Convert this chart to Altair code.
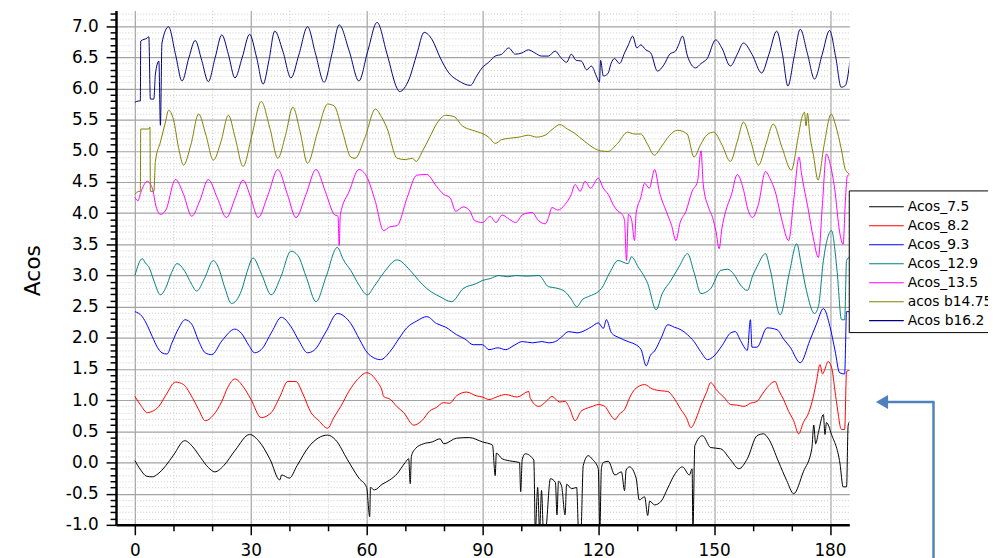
import altair as alt
import pandas as pd

names = ["Acos_7.5", "Acos_8.2", "Acos_9.3", "Acos_12.9", "Acos_13.5", "acos b14.75", "Acos b16.2"]
colors = ["#000000", "#ff0000", "#0000ff", "#008080", "#ff00ff", "#808000", "#000080"]

acos_7_5 = [(0, 0.03), (1.5, -0.12), (3, -0.22), (4.5, -0.23), (6, -0.18), (8, -0.05), (10, 0.12), (12.9, 0.35), (15, 0.25), (17, 0.08), (19, -0.08), (20.7, -0.15), (23, -0.05), (26, 0.20), (29.7, 0.45), (32, 0.35), (35, 0.05), (37.5, -0.28), (38, -0.20), (40, -0.25), (42, -0.05), (45, 0.25), (49.9, 0.44), (52, 0.36), (55, 0.05), (58, -0.25), (60, -0.40), (60.8, -0.87), (61, -0.40), (62, -0.44), (64, -0.35), (66, -0.28), (67.9, -0.18), (70, 0.0), (70.9, 0.06), (71.3, -0.34), (71.6, 0.10), (72.6, 0.22), (74.7, 0.30), (77, 0.33), (79, 0.38), (80, 0.30), (83.3, 0.39), (86.6, 0.40), (90, 0.33), (92.6, 0.28), (93.3, -0.21), (93.6, 0.15), (95.1, 0.06), (97.7, 0.02), (99.6, 0.0), (99.9, -0.47), (100.3, 0.05), (101.1, 0.14), (103.3, 0.04), (103.7, -1.1), (104.3, -0.40), (104.8, -1.1), (105.3, -0.45), (105.8, -1.1), (106.3, -1.1), (107.6, -0.26), (108.9, -0.32), (109.3, -0.84), (109.7, -0.30), (110.5, -0.38), (111.4, -0.84), (111.8, -0.35), (113.1, -0.42), (114.4, -0.40), (114.9, -1.1), (115.5, -1.1), (116.1, -0.05), (117.4, 0.11), (118.5, 0.05), (120, -0.1), (120.4, -1.1), (120.8, -0.1), (121.3, 0.0), (122.6, 0.02), (124.3, -0.20), (126, -0.15), (126.8, -0.45), (127.2, -0.12), (128.1, -0.07), (129.8, -0.25), (130.6, -0.60), (132, -0.55), (132.8, -0.85), (133.3, -0.62), (134.6, -0.68), (136.3, -0.62), (138, -0.41), (139.7, -0.20), (141.8, -0.07), (143.6, -0.20), (144.3, -0.1), (144.5, -1.1), (145, 0.27), (147, 0.43), (149.1, 0.24), (151.7, 0.22), (154.3, 0.04), (156.4, -0.10), (158.6, 0.06), (161.1, 0.43), (162.8, 0.46), (164.1, 0.38), (166.7, 0.01), (168.8, -0.29), (170.6, -0.50), (173.1, -0.15), (175.3, 0.22), (175.8, 0.60), (176.3, 0.30), (177, 0.48), (178.3, 0.77), (178.7, 0.45), (179.1, 0.64), (180.4, 0.45), (182.6, -0.02), (183.4, -0.39), (184.3, -0.39), (184.7, 0.59), (185.2, 0.67)]

acos_8_2 = [(0, 1.06), (1.5, 0.92), (3.2, 0.80), (4.5, 0.82), (6.2, 0.90), (8, 1.08), (10.5, 1.29), (12.6, 1.25), (14.5, 1.08), (16.5, 0.85), (18.2, 0.67), (20.3, 0.76), (22.5, 0.98), (24, 1.20), (25.9, 1.34), (28, 1.22), (30, 1.02), (32.7, 0.72), (35.3, 0.80), (37.5, 1.05), (39.6, 1.30), (41.7, 1.30), (43.5, 1.10), (45.6, 0.80), (47.5, 0.68), (49.9, 0.55), (51.5, 0.72), (53.3, 0.90), (55.5, 1.15), (57.6, 1.33), (60, 1.44), (62.7, 1.30), (64, 1.15), (64.4, 1.06), (66.2, 1.01), (67.8, 0.90), (69.6, 0.80), (72.2, 0.60), (74.3, 0.67), (76.4, 0.83), (78, 0.88), (79.9, 0.96), (81.5, 0.95), (83.3, 1.07), (85.9, 1.13), (88.4, 1.07), (90, 1.05), (91.7, 1.01), (94, 1.06), (96, 1.09), (99, 1.05), (102, 1.14), (102.4, 1.03), (104.6, 0.90), (106.5, 0.98), (108, 1.06), (110, 0.97), (111.4, 0.98), (112.5, 0.88), (114, 0.67), (115.5, 0.82), (116.6, 0.86), (118.5, 0.90), (120, 0.93), (121.7, 0.90), (123, 0.78), (124.3, 0.69), (125.5, 0.78), (126.8, 0.85), (128.2, 1.05), (129.4, 1.17), (132, 1.25), (134, 1.18), (136.3, 1.15), (138, 1.14), (139.3, 1.06), (141.4, 0.85), (142.8, 0.72), (144, 0.56), (145.3, 0.70), (146.6, 0.92), (148, 1.12), (149.1, 1.28), (150.8, 1.15), (152.5, 1.05), (154.3, 0.93), (156, 0.92), (157.7, 0.90), (159.4, 0.95), (161.1, 0.98), (162.5, 1.10), (163.7, 1.20), (165.8, 1.30), (166.8, 1.15), (168, 1.01), (169.3, 0.82), (170.6, 0.67), (171.9, 0.46), (173.1, 0.64), (174.5, 0.80), (175.7, 1.06), (176.5, 1.30), (177.4, 1.57), (178.1, 1.42), (178.7, 1.50), (179.5, 1.62), (180.4, 1.53), (181.6, 1.01), (183, 0.53), (183.8, 0.53), (184.3, 1.46), (185.2, 1.48)]

acos_9_3 = [(0, 2.42), (1.9, 2.34), (3.2, 2.20), (4.5, 2.02), (5.8, 1.85), (7, 1.76), (8.3, 1.74), (9.6, 1.92), (11.3, 2.15), (13, 2.29), (14.7, 2.22), (16.5, 1.95), (18.2, 1.76), (19.9, 1.73), (22.5, 1.95), (25.9, 2.14), (27.6, 2.07), (29.5, 1.88), (31, 1.76), (32.7, 1.81), (35.5, 2.10), (37.9, 2.33), (40.4, 2.18), (42.5, 1.95), (44.7, 1.76), (46.4, 1.80), (49.5, 2.10), (52.4, 2.39), (55.9, 2.23), (58.2, 1.97), (60.2, 1.76), (63.6, 1.65), (66.2, 1.79), (68.5, 2.00), (70.4, 2.16), (73, 2.27), (75.6, 2.34), (78.1, 2.23), (80.5, 2.17), (83.3, 2.05), (85.5, 1.98), (87.6, 1.89), (90, 1.89), (91.7, 1.81), (94, 1.84), (96, 1.81), (98.2, 1.88), (100.3, 1.94), (103, 1.92), (105.4, 1.94), (107.2, 1.92), (108.9, 1.94), (110.6, 2.02), (112.3, 2.10), (114.5, 2.08), (116.6, 2.12), (118.3, 2.18), (120, 2.24), (121.3, 2.15), (122.1, 2.29), (123.4, 2.08), (125.5, 2.00), (127.7, 1.94), (129.4, 1.90), (131.1, 1.81), (132.4, 1.55), (133.5, 1.72), (134.6, 1.79), (136.3, 2.00), (138, 2.21), (139.7, 2.17), (141.4, 2.13), (143.1, 2.05), (144.8, 1.94), (146.5, 1.78), (148.3, 1.65), (150, 1.71), (152.1, 1.88), (154.3, 2.08), (155.5, 2.10), (156.8, 1.96), (158.6, 1.80), (159.4, 2.29), (159.8, 1.85), (161.1, 1.85), (163.7, 2.16), (166.3, 2.13), (168, 1.98), (169.7, 1.85), (172.3, 1.60), (174.8, 1.96), (176.5, 2.22), (178.3, 2.47), (180, 2.18), (181.3, 1.80), (182.5, 1.44), (183.8, 1.42), (184.3, 2.42), (185.2, 2.42)]

acos_12_9 = [(0, 3.00), (1.9, 3.27), (2.7, 3.20), (3.6, 3.14), (5, 2.90), (6.6, 2.69), (7.9, 2.79), (9.5, 3.05), (10.9, 3.19), (13, 3.06), (14.5, 2.88), (16, 2.75), (18, 2.95), (20.3, 3.24), (21.6, 3.13), (23.3, 2.80), (25, 2.55), (27.6, 2.76), (29, 3.05), (30.6, 3.28), (32.8, 3.02), (35.3, 2.69), (37.8, 2.98), (40.4, 3.39), (42.2, 3.32), (44.5, 2.95), (46.9, 2.58), (49.5, 2.98), (52.4, 3.45), (54, 3.25), (55.9, 3.08), (58, 2.85), (60.2, 2.69), (61.9, 2.82), (64.5, 3.05), (67.9, 3.25), (71.3, 3.08), (73.5, 2.92), (75.6, 2.79), (79, 2.66), (82, 2.58), (85, 2.79), (88.4, 2.87), (90, 2.92), (92, 2.95), (94.3, 3.00), (96.5, 2.98), (98.6, 3.00), (101.5, 2.99), (104.6, 3.00), (107.1, 2.82), (109, 2.80), (111.4, 2.74), (113, 2.62), (114.4, 2.50), (116, 2.62), (117.4, 2.66), (120.8, 2.79), (123, 3.05), (125.1, 3.24), (127.7, 3.19), (128.6, 3.30), (130.3, 3.14), (132.8, 2.87), (135, 2.45), (136.5, 2.70), (138.8, 2.92), (141, 3.15), (143.1, 3.35), (144.8, 3.05), (146.6, 2.71), (149.1, 2.79), (151.7, 3.08), (153.5, 3.10), (155.1, 3.02), (156.8, 2.85), (158.6, 2.76), (160, 3.00), (161.1, 3.14), (163.3, 3.35), (164.5, 3.10), (167.1, 2.37), (169.5, 3.05), (171.4, 3.51), (172.5, 3.20), (173.9, 2.76), (176, 2.39), (177, 2.50), (178.3, 3.24), (180.4, 3.72), (181.8, 3.10), (183, 2.29), (183.8, 2.29), (184.3, 3.24), (185.2, 3.30)]

acos_13_5 = [(0, 4.25), (0.8, 4.20), (1.5, 4.33), (3.2, 4.51), (4.5, 4.40), (5.5, 4.10), (6.6, 3.98), (8, 4.05), (10.5, 4.54), (12.6, 4.30), (14.7, 3.95), (16.8, 4.20), (19, 4.54), (21.3, 4.25), (23.7, 3.93), (26, 4.25), (28, 4.53), (30, 4.25), (31.9, 3.93), (34.5, 4.30), (37, 4.70), (39.5, 4.30), (41.7, 3.93), (44.3, 4.30), (46.9, 4.70), (49.3, 4.35), (51.6, 3.98), (52.6, 3.95), (52.9, 3.48), (53.2, 3.98), (55.5, 4.35), (58, 4.70), (60, 4.59), (62.2, 4.20), (64.4, 3.72), (66, 3.78), (67.9, 3.80), (70.5, 4.25), (73, 4.61), (75.6, 4.62), (78.1, 4.43), (80, 4.30), (81.6, 4.25), (83.1, 4.03), (85, 4.10), (86.6, 4.05), (88, 3.88), (90, 3.85), (92, 3.95), (93.5, 3.85), (95.1, 3.97), (97, 3.90), (98.6, 3.85), (100.5, 3.98), (102.9, 4.01), (104.5, 3.88), (106.3, 3.83), (107.2, 3.95), (108, 4.09), (109.5, 4.05), (111.4, 4.14), (113, 4.30), (114, 4.46), (115.3, 4.35), (116.6, 4.51), (118, 4.40), (120, 4.56), (121.3, 4.40), (122.6, 4.30), (124, 4.12), (125.1, 4.03), (126.2, 3.98), (126.8, 3.88), (127.3, 3.24), (127.8, 3.98), (128.6, 3.90), (129.4, 3.56), (129.8, 4.00), (131, 4.25), (132, 4.48), (133.2, 4.40), (134.6, 4.70), (135.8, 4.35), (137.6, 4.03), (139, 3.80), (140.1, 3.56), (141.2, 3.85), (142.7, 4.03), (144.3, 4.35), (145.7, 4.51), (146.6, 5.00), (147.2, 4.45), (148.5, 4.10), (149.6, 3.93), (150.5, 3.70), (151.3, 3.43), (152, 3.75), (153, 4.03), (154.5, 4.30), (156, 4.62), (157.5, 4.40), (158.8, 4.05), (159.9, 3.93), (161.5, 4.15), (163.3, 4.67), (164.5, 4.55), (165.8, 4.35), (167.5, 3.90), (169.3, 3.56), (170.6, 4.20), (172, 4.90), (172.6, 4.65), (174.4, 4.05), (175.7, 3.60), (177, 3.29), (178, 4.10), (179.1, 4.95), (180, 4.80), (181.2, 4.40), (182.5, 3.70), (183.4, 3.50), (184, 4.20), (184.5, 4.60), (185.2, 4.62)]

acos_b14_75 = [(0, 4.30), (1, 4.35), (1.4, 4.35), (1.5, 5.35), (3.6, 5.35), (3.9, 5.38), (4, 4.35), (4.9, 4.35), (5.3, 4.83), (6.6, 5.14), (7.9, 5.46), (8.7, 5.65), (10, 5.50), (11.3, 5.05), (12.6, 4.77), (14.5, 5.10), (16.5, 5.59), (18.4, 5.25), (20.3, 4.85), (22.3, 5.15), (24.2, 5.57), (26, 5.20), (28, 4.75), (30.3, 5.25), (32.7, 5.79), (35, 5.35), (37, 4.88), (39, 5.25), (40.9, 5.70), (42.8, 5.30), (44.7, 4.80), (47.3, 5.30), (49.9, 5.75), (51.6, 5.72), (53.8, 5.30), (55.9, 4.90), (57, 4.88), (59.5, 5.20), (62.3, 5.67), (63.8, 5.55), (65.3, 5.36), (67.9, 4.88), (70, 4.86), (71.9, 4.88), (72.8, 4.83), (74.5, 5.00), (76.2, 5.20), (78.3, 5.45), (80.5, 5.57), (82.6, 5.55), (84.8, 5.40), (87.4, 5.33), (89.9, 5.28), (91.6, 5.22), (93.3, 5.12), (95, 5.18), (96.8, 5.20), (99.5, 5.22), (101.9, 5.25), (104, 5.22), (106.2, 5.25), (108.2, 5.35), (110, 5.42), (112, 5.35), (113.9, 5.28), (116.5, 5.15), (119, 5.04), (120.5, 5.00), (122.5, 4.99), (125, 5.12), (127.6, 5.30), (129.3, 5.27), (131, 5.27), (132.8, 5.10), (134.5, 4.93), (136.5, 5.08), (138.5, 5.25), (140.5, 5.33), (143, 5.27), (144.8, 4.90), (146.5, 5.10), (148.2, 5.26), (149.9, 5.30), (152, 5.10), (154.2, 4.83), (156, 5.15), (157.6, 5.46), (159.5, 5.15), (161.5, 4.77), (163.4, 5.10), (165.3, 5.43), (167.6, 5.05), (170, 4.69), (171.7, 5.20), (172.8, 5.55), (173.4, 5.62), (173.8, 5.40), (174.2, 5.60), (174.7, 5.30), (175.8, 4.90), (176.9, 4.53), (178.5, 5.10), (180.3, 5.59), (181.5, 5.40), (182.9, 5.04), (184, 4.70), (185.2, 4.62)]

acos_b16_2 = [(0, 5.78), (1, 5.80), (1.4, 5.80), (1.5, 6.76), (3.2, 6.81), (3.6, 6.83), (4, 5.83), (4.9, 5.83), (5.3, 6.23), (6.2, 6.44), (6.6, 5.41), (7, 6.73), (8.7, 6.99), (10.5, 6.55), (12.2, 6.12), (14, 6.50), (15.6, 6.77), (17.3, 6.45), (19, 6.11), (20.8, 6.50), (22.5, 6.86), (24.2, 6.55), (25.9, 6.17), (27.8, 6.50), (29.7, 6.87), (31.5, 6.50), (33.2, 6.07), (34.7, 6.45), (36.2, 6.92), (38.3, 6.60), (40.4, 6.17), (42.5, 6.55), (44.7, 6.99), (46.8, 6.55), (49, 6.10), (51, 6.55), (52.9, 7.02), (55.5, 6.60), (58, 6.12), (60.3, 6.60), (62.7, 7.06), (65.3, 6.55), (67.9, 6.00), (68.5, 5.95), (71, 6.15), (73, 6.55), (74.9, 6.90), (77, 6.78), (79, 6.50), (81.3, 6.25), (83.9, 6.12), (86.9, 6.05), (88.5, 6.20), (89.9, 6.33), (91.6, 6.42), (93.3, 6.52), (95, 6.55), (96.8, 6.65), (98.5, 6.55), (100.2, 6.57), (101.9, 6.62), (103.6, 6.57), (105.3, 6.52), (107.1, 6.52), (108.8, 6.60), (110.5, 6.48), (111.8, 6.42), (113, 6.55), (114.3, 6.45), (115.6, 6.44), (117, 6.30), (118.2, 6.36), (119.5, 6.20), (120.3, 6.10), (120.6, 6.45), (121.3, 6.20), (122.5, 6.24), (123.3, 6.40), (124.2, 6.48), (125.5, 6.40), (126.8, 6.57), (127.8, 6.70), (128.9, 6.84), (130, 6.65), (131, 6.70), (132.3, 6.62), (133.6, 6.57), (135.3, 6.28), (137, 6.38), (138.5, 6.55), (140, 6.60), (140.8, 6.70), (141.8, 6.84), (143.1, 6.52), (145.2, 6.33), (146.6, 6.40), (148.2, 6.48), (150.4, 6.78), (152, 6.65), (154.2, 6.36), (156, 6.55), (157.6, 6.73), (159.8, 6.55), (162.3, 6.25), (164.2, 6.55), (166.2, 6.92), (167.7, 6.55), (169.1, 6.04), (170.7, 6.50), (172.3, 6.95), (174.2, 6.55), (176, 6.15), (178, 6.55), (179.9, 6.93), (181.5, 6.50), (182.9, 6.02), (184, 6.05), (185.2, 6.45)]

series = [acos_7_5, acos_8_2, acos_9_3, acos_12_9, acos_13_5, acos_b14_75, acos_b16_2]

rows = []
for name, pts in zip(names, series):
    for t, v in pts:
        rows.append({"name": name, "t": t, "v": v})
df = pd.DataFrame(rows)

y_ticks = [round(-1 + 0.1 * i, 1) for i in range(83)]
x_ticks = list(range(0, 190, 10))

Y_MAJOR = "abs(datum.value * 2 - round(datum.value * 2)) < 0.01"
X_MAJOR = "datum.value % 30 === 0"

color_scale = alt.Scale(domain=names, range=colors)

x_axis = alt.Axis(
    values=x_ticks,
    labelExpr=X_MAJOR + " ? '' + datum.value : ''",
    labelOverlap=False,
    tickSize={"condition": {"test": X_MAJOR, "value": 10}, "value": 6},
    gridColor={"condition": {"test": X_MAJOR, "value": "#a3a3a3"}, "value": "#d4d4d4"},
    gridDash={"condition": {"test": X_MAJOR, "value": []}, "value": [1, 2]},
    gridWidth=1.2,
    title=None,
    labelPadding=8,
)
y_axis = alt.Axis(
    values=y_ticks,
    labelExpr=Y_MAJOR + " ? ((datum.value < 0 ? '-' : '') + format(abs(datum.value), '.1f')) : ''",
    labelOverlap=False,
    tickSize={"condition": {"test": Y_MAJOR, "value": 10}, "value": 6},
    gridColor={"condition": {"test": Y_MAJOR, "value": "#a3a3a3"}, "value": "#d4d4d4"},
    gridDash={"condition": {"test": Y_MAJOR, "value": []}, "value": [1, 2]},
    gridWidth=1.2,
    title="Acos",
    titleX=-84,
    titleY=262,
    titleAngle=270,
    titleAlign="center",
    titleBaseline="middle",
    labelPadding=8,
)

lines = alt.Chart(df).mark_line(strokeWidth=1, clip=True, interpolate="monotone").encode(
    x=alt.X("t:Q", scale=alt.Scale(domain=[-4.9, 185], nice=False, zero=False), axis=x_axis),
    y=alt.Y("v:Q", scale=alt.Scale(domain=[-1, 7.25], nice=False, zero=False), axis=y_axis),
    color=alt.Color("name:N", scale=color_scale, legend=None),
)

leg_df = pd.DataFrame({"name": names, "row": list(range(len(names)))})
row_scale = alt.Scale(domain=[0, 6], range=[198, 313], nice=False, zero=False)

leg_box = alt.Chart(alt.Data(values=[{}])).mark_rect(fill="white", stroke="black", strokeWidth=1).encode(
    x=alt.value(740), x2=alt.value(900), y=alt.value(182), y2=alt.value(325)
)
leg_sym = alt.Chart(leg_df).mark_rule(strokeWidth=1.2).encode(
    x=alt.value(760), x2=alt.value(795),
    y=alt.Y("row:Q", scale=row_scale, axis=None),
    color=alt.Color("name:N", scale=color_scale, legend=None),
)
leg_txt = alt.Chart(leg_df).mark_text(align="left", baseline="middle", font="DejaVu Sans", fontSize=14, color="black").encode(
    x=alt.value(799),
    y=alt.Y("row:Q", scale=row_scale, axis=None),
    text="name:N",
)

arrow_color = "#4f81bd"
arr_v = alt.Chart(alt.Data(values=[{}])).mark_rule(color=arrow_color, strokeWidth=2.5).encode(
    x=alt.value(825), y=alt.value(395), y2=alt.value(560)
)
arr_h = alt.Chart(alt.Data(values=[{}])).mark_rule(color=arrow_color, strokeWidth=2.5).encode(
    x=alt.value(776), x2=alt.value(826), y=alt.value(395)
)
arr_head = alt.Chart(alt.Data(values=[{}])).mark_point(shape="triangle-left", filled=True, size=200, color=arrow_color, opacity=1).encode(
    x=alt.value(773), y=alt.value(395)
)

chart = alt.layer(lines, leg_box, leg_sym, leg_txt, arr_v, arr_h, arr_head).resolve_scale(
    y="independent"
).properties(
    width=740, height=519,
    autosize=alt.AutoSizeParams(type="none"),
    padding={"left": 109, "top": 0, "right": 140, "bottom": 45},
).configure_view(stroke=None).configure_axis(
    labelFont="DejaVu Sans", labelFontSize=17, labelColor="black",
    titleFont="DejaVu Sans", titleFontSize=22, titleFontWeight="normal", titleColor="black",
    domainColor="black", domainWidth=2.5, tickColor="black", tickWidth=1.5,
)

chart.save("out.html", embed_options={"renderer": "svg", "actions": False})
